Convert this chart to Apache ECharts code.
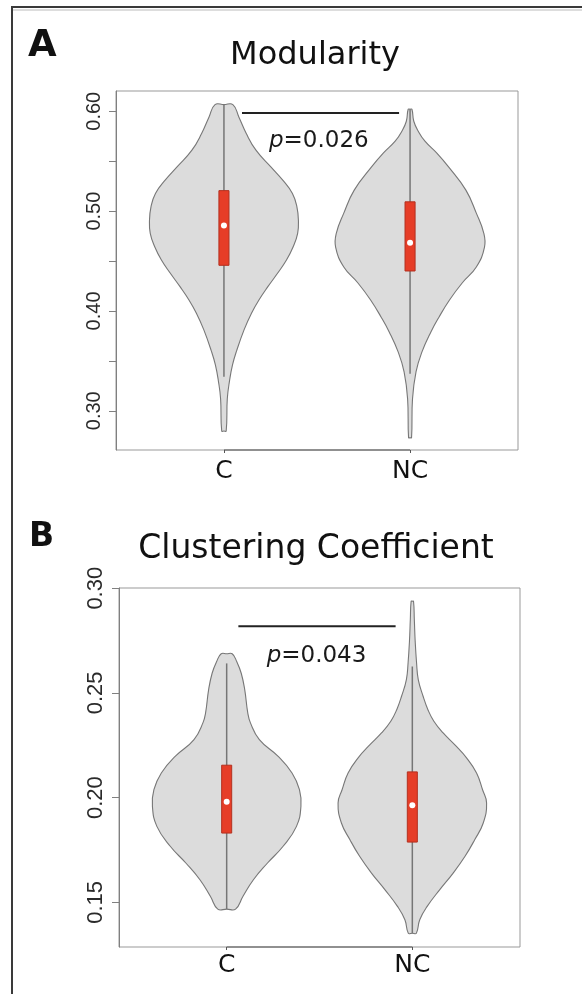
<!DOCTYPE html>
<html>
<head>
<meta charset="utf-8">
<script src="https://cdn.jsdelivr.net/npm/echarts@6/dist/echarts.min.js"></script>
<style>
  html, body { margin: 0; padding: 0; background: #ffffff; }
  #chart { width: 582px; height: 994px; }
</style>
</head>
<body>
<div id="chart"></div>
<script>
// ---- groups ----
const groups = ['C', 'NC'];
const groupX = [1, 2];

// ---- Panel A: Modularity ----
// violin outlines: [value, relative density (1 = widest)]
const modDensityC = [
  [0.6067, 0.12], [0.5943, 0.20], [0.5777, 0.30], [0.561, 0.43], [0.5443, 0.63],
  [0.531, 0.79], [0.5177, 0.92], [0.5043, 0.98], [0.491, 1.00], [0.4777, 0.99],
  [0.4643, 0.93], [0.451, 0.84], [0.4377, 0.72], [0.4243, 0.59], [0.411, 0.47],
  [0.3977, 0.37], [0.381, 0.27], [0.360, 0.17], [0.346, 0.115],
  [0.330, 0.075], [0.312, 0.045], [0.2797, 0.03]
];
const modDensityNC = [
  [0.602, 0.025], [0.590, 0.05], [0.580, 0.11], [0.570, 0.20], [0.558, 0.36],
  [0.544, 0.52], [0.521, 0.75], [0.498, 0.89], [0.478, 0.99], [0.464, 1.00],
  [0.444, 0.89], [0.428, 0.70], [0.411, 0.53], [0.394, 0.39], [0.379, 0.28],
  [0.359, 0.16], [0.339, 0.08], [0.312, 0.033], [0.273, 0.02]
];
const modLow = [0.334, 0.337];
const modQ1 = [0.4457, 0.4400];
const modMedian = [0.4857, 0.4683];
const modQ3 = [0.5205, 0.5093];
const modHigh = [0.6067, 0.6020];
const modTicks = [0.30, 0.35, 0.40, 0.45, 0.50, 0.55, 0.60];
const modTickLabels = [0.30, 0.40, 0.50, 0.60];
const modPValue = '0.026';
const modBracket = [1.097, 1.941, 0.5983];   // x from, x to, y
const modPLabelAt = [1.51, 0.570];

// ---- Panel B: Clustering Coefficient ----
const clusDensityC = [
  [0.2687, 0.074], [0.2650, 0.135], [0.2594, 0.196], [0.2516, 0.243], [0.2405, 0.284],
  [0.2357, 0.32], [0.2277, 0.44], [0.2198, 0.69], [0.2118, 0.88], [0.2038, 0.98],
  [0.1959, 1.00], [0.1863, 0.94], [0.1768, 0.76], [0.1688, 0.55], [0.1608, 0.36],
  [0.1529, 0.22], [0.1468, 0.12]
];
const clusDensityNC = [
  [0.2938, 0.016], [0.2850, 0.027], [0.2750, 0.038], [0.2644, 0.057], [0.2564, 0.08],
  [0.2484, 0.145], [0.2420, 0.21], [0.2365, 0.29], [0.2309, 0.415], [0.2253, 0.57],
  [0.2190, 0.73], [0.2118, 0.865], [0.2038, 0.946], [0.1975, 1.00], [0.1879, 0.955],
  [0.1799, 0.84], [0.1720, 0.71], [0.1640, 0.55], [0.1561, 0.37], [0.1481, 0.20],
  [0.1417, 0.10], [0.1353, 0.054]
];
const clusLow = [0.1468, 0.1353];
const clusQ1 = [0.1831, 0.1788];
const clusMedian = [0.1981, 0.1964];
const clusQ3 = [0.2155, 0.2123];
const clusHigh = [0.2641, 0.2626];
const clusTicks = [0.15, 0.20, 0.25, 0.30];
const clusTickLabels = [0.15, 0.20, 0.25, 0.30];
const clusPValue = '0.043';
const clusBracket = [1.063, 1.910, 0.2818];
const clusPLabelAt = [1.484, 0.2676];

// ---- axis ranges ----
const xRange = [0.42, 2.58];
const modRange = [0.2607, 0.6203];
const clusRange = [0.1287, 0.3001];

// ---- drawing helpers ----
const VIOLIN_HALF = 0.4;   // half width of the widest part, in x units
const BOX_HALF = 0.027;
const TEXT_FONT = 'DejaVu Sans';

function violinItem(densities) {
  return function (params, api) {
    const d = densities[params.dataIndex];
    const cx = api.value(0);
    const top = d[0][0];
    const bottom = d[d.length - 1][0];
    const right = d.map(p => api.coord([cx + p[1] * VIOLIN_HALF, p[0]]));
    const left = d.slice().reverse().map(p => api.coord([cx - p[1] * VIOLIN_HALF, p[0]]));
    const pts = [api.coord([cx, top])].concat(right, [api.coord([cx, bottom])], left);
    return {
      type: 'polygon',
      shape: { points: pts, smooth: 0.45 },
      style: { fill: '#dcdcdc', stroke: '#777777', lineWidth: 1.1 }
    };
  };
}

function boxItem(low, q1, med, q3, high) {
  return function (params, api) {
    const i = params.dataIndex;
    const cx = api.value(0);
    const a = api.coord([cx, low[i]]);
    const b = api.coord([cx, high[i]]);
    const tl = api.coord([cx - BOX_HALF, q3[i]]);
    const br = api.coord([cx + BOX_HALF, q1[i]]);
    const m = api.coord([cx, med[i]]);
    return {
      type: 'group',
      children: [
        { type: 'line', shape: { x1: a[0], y1: a[1], x2: b[0], y2: b[1] },
          style: { stroke: '#767676', lineWidth: 1.5 } },
        { type: 'rect', shape: { x: tl[0], y: tl[1], width: br[0] - tl[0], height: br[1] - tl[1] },
          style: { fill: '#e63d27', stroke: '#b3301f', lineWidth: 1 } },
        { type: 'circle', shape: { cx: m[0], cy: m[1], r: 3 }, style: { fill: '#ffffff' } }
      ]
    };
  };
}

function axisSegmentItem(yMin) {
  return function (params, api) {
    const a = api.coord([api.value(0), yMin]);
    const b = api.coord([api.value(1), yMin]);
    return { type: 'line', shape: { x1: a[0], y1: a[1], x2: b[0], y2: b[1] },
             style: { stroke: '#555555', lineWidth: 1.2 } };
  };
}

function bracketItem(pLabelAt, pValue) {
  return function (params, api) {
    const a = api.coord([api.value(0), api.value(2)]);
    const b = api.coord([api.value(1), api.value(2)]);
    const t = api.coord(pLabelAt);
    return {
      type: 'group',
      children: [
        { type: 'line', shape: { x1: a[0], y1: a[1], x2: b[0], y2: b[1] },
          style: { stroke: '#222222', lineWidth: 2 } },
        { type: 'text', x: t[0], y: t[1],
          style: {
            text: '{i|p}=' + pValue,
            rich: { i: { fontStyle: 'italic', fontFamily: TEXT_FONT, fontSize: 23, fill: '#1a1a1a' } },
            fontFamily: TEXT_FONT, fontSize: 23, fill: '#1a1a1a',
            align: 'center', verticalAlign: 'middle'
          } }
      ]
    };
  };
}

function xAxisFor(gridIndex) {
  return {
    type: 'value', gridIndex, min: xRange[0], max: xRange[1],
    axisLine: { show: false },
    splitLine: { show: false },
    axisTick: { show: true, customValues: groupX, length: 3, lineStyle: { color: '#555' } },
    axisLabel: {
      customValues: groupX, formatter: v => groups[Math.round(v) - 1],
      fontFamily: TEXT_FONT, fontSize: 25, color: '#111', margin: gridIndex === 0 ? 9 : 6
    }
  };
}

function yAxisFor(gridIndex, range, ticks, labels, fontSize) {
  return {
    type: 'value', gridIndex, min: range[0], max: range[1],
    axisLine: { show: true, lineStyle: { color: '#808080', width: 1 } },
    splitLine: { show: false },
    axisTick: { show: true, customValues: ticks, length: 7, lineStyle: { color: '#808080' } },
    axisLabel: {
      customValues: labels, formatter: v => v.toFixed(2), rotate: 90,
      fontFamily: 'Liberation Sans', fontSize, color: '#2a2a2a', margin: 12
    }
  };
}

const chart = echarts.init(document.getElementById('chart'), null, { renderer: 'canvas' });

chart.setOption({
  animation: false,
  backgroundColor: '#ffffff',
  grid: [
    { left: 116, top: 91, width: 402, height: 359, show: true, borderColor: '#999', borderWidth: 1 },
    { left: 119, top: 588, width: 401, height: 359, show: true, borderColor: '#999', borderWidth: 1 }
  ],
  xAxis: [xAxisFor(0), xAxisFor(1)],
  yAxis: [
    yAxisFor(0, modRange, modTicks, modTickLabels, 20),
    yAxisFor(1, clusRange, clusTicks, clusTickLabels, 22)
  ],
  graphic: [
    // figure frame
    { type: 'line', shape: { x1: 12, y1: 7, x2: 582, y2: 7 }, style: { stroke: '#3a3a3a', lineWidth: 2 } },
    { type: 'line', shape: { x1: 12, y1: 10, x2: 582, y2: 10 }, style: { stroke: '#dddddd', lineWidth: 2 } },
    { type: 'line', shape: { x1: 12, y1: 6, x2: 12, y2: 994 }, style: { stroke: '#3a3a3a', lineWidth: 2 } },
    // panel letters and titles
    { type: 'text', x: 28, y: 46, style: { text: 'A', fontFamily: TEXT_FONT, fontWeight: 'bold', fontSize: 37, fill: '#111', verticalAlign: 'middle' } },
    { type: 'text', x: 29, y: 537, style: { text: 'B', fontFamily: TEXT_FONT, fontWeight: 'bold', fontSize: 33, fill: '#111', verticalAlign: 'middle' } },
    { type: 'text', x: 315, y: 56, style: { text: 'Modularity', fontFamily: TEXT_FONT, fontSize: 32, fill: '#111', align: 'center', verticalAlign: 'middle' } },
    { type: 'text', x: 316, y: 549, style: { text: 'Clustering Coefficient', fontFamily: TEXT_FONT, fontSize: 33, fill: '#111', align: 'center', verticalAlign: 'middle' } }
  ],
  series: [
    { type: 'custom', name: 'modViolins', xAxisIndex: 0, yAxisIndex: 0, z: 2,
      renderItem: violinItem([modDensityC, modDensityNC]),
      data: groupX.map((x, i) => [x, modMedian[i]]) },
    { type: 'custom', name: 'modBoxes', xAxisIndex: 0, yAxisIndex: 0, z: 3,
      renderItem: boxItem(modLow, modQ1, modMedian, modQ3, modHigh),
      data: groupX.map((x, i) => [x, modMedian[i]]) },
    { type: 'custom', name: 'modAxis', xAxisIndex: 0, yAxisIndex: 0, z: 4, clip: false,
      renderItem: axisSegmentItem(modRange[0]),
      encode: { x: [0, 1], y: 2 },
      data: [[groupX[0], groupX[1], modRange[0]]] },
    { type: 'custom', name: 'modBracket', xAxisIndex: 0, yAxisIndex: 0, z: 4,
      renderItem: bracketItem(modPLabelAt, modPValue),
      encode: { x: [0, 1], y: 2 },
      data: [modBracket] },

    { type: 'custom', name: 'clusViolins', xAxisIndex: 1, yAxisIndex: 1, z: 2,
      renderItem: violinItem([clusDensityC, clusDensityNC]),
      data: groupX.map((x, i) => [x, clusMedian[i]]) },
    { type: 'custom', name: 'clusBoxes', xAxisIndex: 1, yAxisIndex: 1, z: 3,
      renderItem: boxItem(clusLow, clusQ1, clusMedian, clusQ3, clusHigh),
      data: groupX.map((x, i) => [x, clusMedian[i]]) },
    { type: 'custom', name: 'clusAxis', xAxisIndex: 1, yAxisIndex: 1, z: 4, clip: false,
      renderItem: axisSegmentItem(clusRange[0]),
      encode: { x: [0, 1], y: 2 },
      data: [[groupX[0], groupX[1], clusRange[0]]] },
    { type: 'custom', name: 'clusBracket', xAxisIndex: 1, yAxisIndex: 1, z: 4,
      renderItem: bracketItem(clusPLabelAt, clusPValue),
      encode: { x: [0, 1], y: 2 },
      data: [clusBracket] }
  ]
});
</script>
</body>
</html>
